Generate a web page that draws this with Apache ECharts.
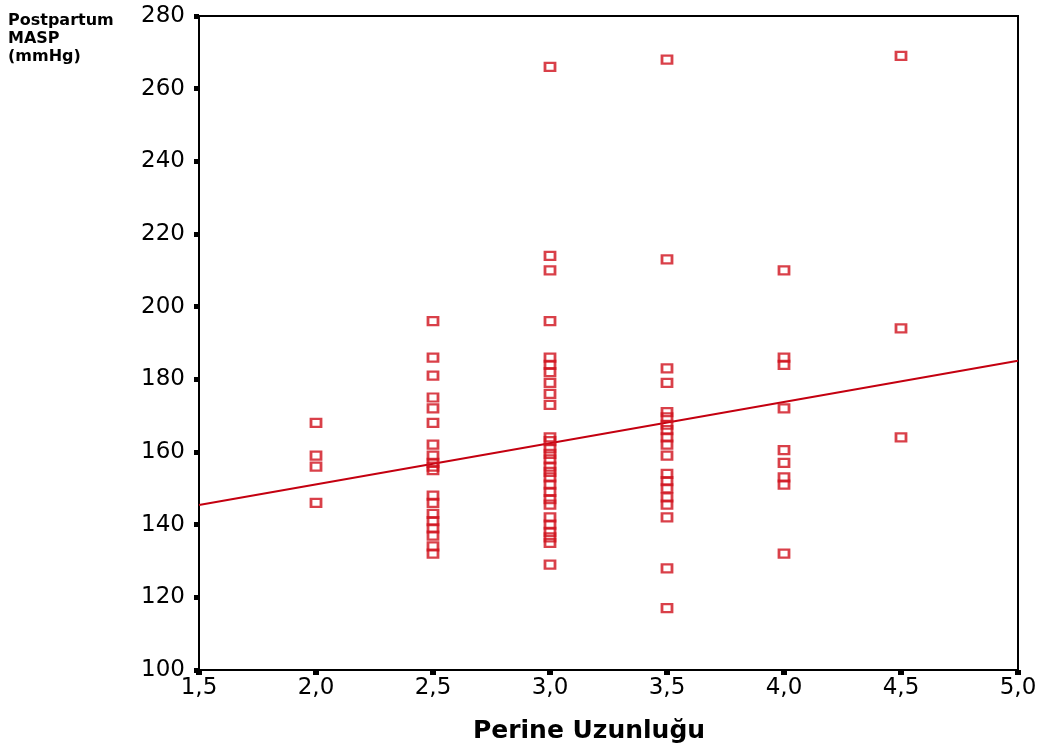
<!DOCTYPE html>
<html>
<head>
<meta charset="utf-8">
<script src="https://cdn.jsdelivr.net/npm/echarts@6/dist/echarts.min.js"></script>
<style>
html,body{margin:0;padding:0;background:#fff;}
#chart{width:1040px;height:754px;}
</style>
</head>
<body>
<div id="chart"></div>
<script>
// Perine length groups and Postpartum MASP values (mmHg)
const perineLevels = [2.0, 2.5, 3.0, 3.5, 4.0, 4.5];
const masp20 = [168, 159, 156, 146];
const masp25 = [196, 186, 181, 175, 172, 168, 162, 159, 157, 156, 155, 148, 146, 143, 141, 139, 137, 134, 132];
const masp30 = [266, 214, 210, 196, 186, 184, 182, 179, 176, 173, 164, 163, 161, 159.5, 158, 156, 154.5, 153, 151, 149, 147, 145.5, 142, 140, 138, 136.5, 135, 129];
const masp35 = [268, 213, 183, 179, 171, 169.5, 167.5, 166, 164, 162, 159, 154, 152, 150, 147.5, 145.5, 142, 128, 117];
const masp40 = [210, 186, 184, 172, 160.5, 157, 153, 151, 132];
const masp45 = [269, 194, 164];
// regression line end points
const fitX = [1.5, 5.0];
const fitY = [145.4, 185.1];
const xTicks = ['1,5','2,0','2,5','3,0','3,5','4,0','4,5','5,0'];
const yTicks = [100,120,140,160,180,200,220,240,260,280];

const groups = [masp20, masp25, masp30, masp35, masp40, masp45];
const points = [];
groups.forEach((g, i) => g.forEach(v => points.push([perineLevels[i], v])));
const fitLine = fitX.map((x, i) => [x, fitY[i]]);

const chart = echarts.init(document.getElementById('chart'), null, {renderer: 'canvas'});
const red = '#d0101c';
chart.setOption({
  animation: false,
  backgroundColor: '#fff',
  grid: {left: 199, right: 22, top: 16, bottom: 84, show: true, borderColor: '#000', borderWidth: 2, containLabel: false},
  xAxis: {
    type: 'value', min: 1.5, max: 5.0, interval: 0.5,
    splitLine: {show: false},
    axisLine: {show: true, lineStyle: {color: '#000', width: 2}},
    axisTick: {show: true, inside: false, length: 5, lineStyle: {color: '#000', width: 6}},
    axisLabel: {color: '#000', fontFamily: 'DejaVu Sans', fontSize: 23, margin: 7,
      formatter: v => xTicks[Math.round((v - 1.5) / 0.5)]}
  },
  yAxis: {
    type: 'value', min: 100, max: 280, interval: 20,
    splitLine: {show: false},
    axisLine: {show: true, lineStyle: {color: '#000', width: 2}},
    axisTick: {show: true, inside: false, length: 5, lineStyle: {color: '#000', width: 5}},
    axisLabel: {color: '#000', fontFamily: 'DejaVu Sans', fontSize: 23, margin: 14,
      formatter: v => String(yTicks[Math.round((v - 100) / 20)])}
  },
  graphic: [
    {type: 'text', x: 8, y: 12, style: {text: 'Postpartum\nMASP\n(mmHg)', fontFamily: 'DejaVu Sans', fontWeight: 'bold', fontSize: 16, lineHeight: 18, fill: '#000'}},
    {type: 'text', x: 589, y: 719, style: {text: 'Perine Uzunluğu', fontFamily: 'DejaVu Sans', fontWeight: 'bold', fontSize: 25, fill: '#000', align: 'center'}}
  ],
  series: [
    {
      type: 'scatter', data: points, symbol: 'rect', symbolSize: [10, 8],
      itemStyle: {color: 'rgba(255,255,255,0)', borderColor: red, borderWidth: 2.5},
      emphasis: {disabled: true}, z: 3
    },
    {
      type: 'line', data: fitLine, symbol: 'none', showSymbol: false,
      lineStyle: {color: '#c40010', width: 2}, emphasis: {disabled: true}, z: 2
    }
  ]
});
</script>
</body>
</html>
